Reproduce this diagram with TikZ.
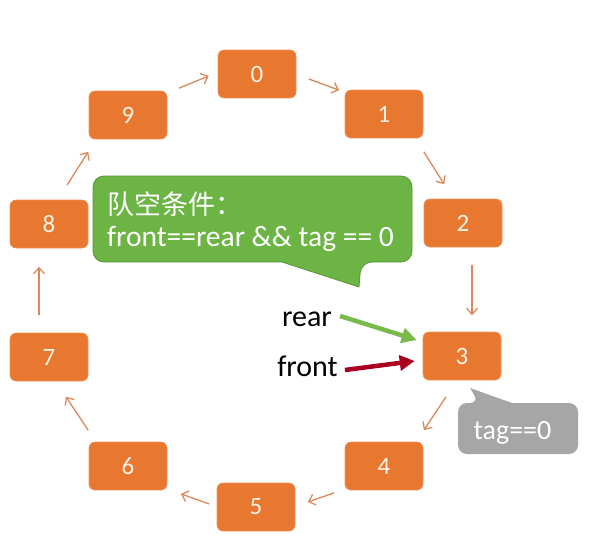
\documentclass[tikz,border=0pt]{standalone}
\usepackage{fontspec}
\setmainfont{Carlito}
\newfontfamily\cjk{Noto Sans CJK SC}
\usetikzlibrary{arrows.meta,calc}
\definecolor{qorange}{RGB}{232,120,48}
\definecolor{qline}{RGB}{219,136,92}
\definecolor{qnum}{RGB}{255,242,228}
\definecolor{qgreen}{RGB}{108,180,68}
\definecolor{qgreenb}{RGB}{88,150,55}
\definecolor{qgreenarrow}{RGB}{120,186,76}
\definecolor{qred}{RGB}{168,0,30}
\definecolor{qgray}{RGB}{166,166,166}
\tikzset{
  slot/.style={rectangle, rounded corners=6pt, fill=qorange, draw=qorange!80!white, line width=0.6pt,
    minimum width=78pt, minimum height=48pt, inner sep=0pt, text=qnum, font=\fontsize{25pt}{29pt}\selectfont},
  conn/.style={draw=qline, line width=1.3pt, -{Straight Barb[length=6pt,width=11pt]}},
  ptr/.style={line width=4.5pt, -{Triangle[length=15pt,width=15pt]}},
  lbl/.style={inner sep=0pt, font=\fontsize{30pt}{34pt}\selectfont},
}
\begin{document}
\begin{tikzpicture}[x=1pt,y=-1pt]
\path[use as bounding box] (0,0) rectangle (593,549);
% queue slots
\node[slot] (n0) at (257,74) {0};
\node[slot] (n1) at (384,114) {1};
\node[slot] (n2) at (463,223) {2};
\node[slot] (n3) at (462,356) {3};
\node[slot] (n4) at (384,466) {4};
\node[slot] (n5) at (256,507) {5};
\node[slot] (n6) at (128,466) {6};
\node[slot] (n7) at (49,357) {7};
\node[slot] (n8) at (49,224) {8};
\node[slot] (n9) at (128,115) {9};
% ring connectors
\draw[conn] ($(n9.north east)+(11.5,-2.5)$) -- ($(n0.west)+(-9,2)$);
\draw[conn] ($(n0.east)+(12.5,5)$) -- ($(n1.north west)+(-5.5,0.5)$);
\draw[conn] ($(n1.south east)+(0.5,13.5)$) -- ($(n2.north west)+(20.5,-14.5)$);
\draw[conn] ($(n2.south)+(9,17.5)$) -- ($(n3.north)+(10,-16.5)$);
\draw[conn] ($(n3.south)+(-16,16.5)$) -- ($(n4.north east)+(0.5,-11.5)$);
\draw[conn] ($(n4.south west)+(-10.5,2.5)$) -- ($(n5.east)+(12.5,-5)$);
\draw[conn] ($(n5.west)+(-7.5,-3)$) -- ($(n6.south east)+(13.5,3.5)$);
\draw[conn] ($(n6.north west)+(-0.5,-11.5)$) -- ($(n7.south)+(17,15.5)$);
\draw[conn] ($(n7.north)+(-10,-17.5)$) -- ($(n8.south)+(-10,18.5)$);
\draw[conn] ($(n8.north)+(18,-14.5)$) -- ($(n9.south west)+(-0.5,12.5)$);
% green callout
\draw[fill=qgreen, draw=qgreenb, line width=0.8pt]
  (93,218) [rounded corners=11pt] -- (93,176) -- (412,176) -- (412,262) -- (361,262)
  [sharp corners] -- (359,287) -- (282,262) [rounded corners=11pt] -- (93,262) -- cycle;
\node[anchor=west, inner sep=0pt, text=white, font=\cjk\fontsize{27pt}{31pt}\selectfont] (cond1) at (107,204) {队空条件：};
\node[anchor=west, inner sep=0pt, text=white, font=\fontsize{29.5pt}{34pt}\selectfont] (cond2) at (107,239) {front==rear \&\& tag == 0};
% gray callout
\fill[qgray]
  (458,428) [rounded corners=9pt] -- (458,403) -- (479,403)
  [sharp corners] -- (470,388) -- (512,403) [rounded corners=9pt] -- (578,403) -- (578,454) -- (458,454) -- cycle;
\node[inner sep=0pt, text=white, font=\fontsize{28pt}{32pt}\selectfont] (tagz) at (512.5,433) {tag==0};
% pointers
\node[lbl] (rear) at (307,319) {rear};
\node[lbl] (front) at (307.5,366) {front};
\draw[ptr, qgreenarrow] ($(rear.east)+(8,-3)$) -- ($(n3.west)+(-6,-16)$);
\draw[ptr, qred] ($(front.east)+(7,4)$) -- ($(n3.west)+(-8,5)$);
\end{tikzpicture}
\end{document}
